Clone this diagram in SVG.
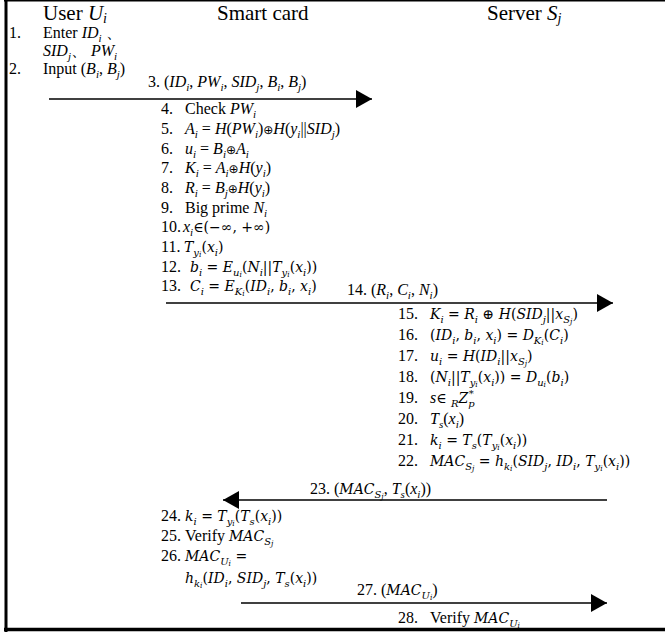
<svg xmlns="http://www.w3.org/2000/svg" width="665" height="633" viewBox="0 0 665 633">
<defs>
<style>
text{font-family:"Liberation Serif","Times New Roman",serif;font-size:16px;fill:#000}
.h{font-size:21px}
.i{font-style:italic}
.s{font-size:11px;baseline-shift:-3.5px}
.hs{font-size:14px;baseline-shift:-3px}
.m{font-family:"DejaVu Serif",serif;font-size:14px}
.ms{font-size:10px;baseline-shift:-3.5px}
.mss{font-size:7.5px;baseline-shift:-1.5px}
.msp{font-size:10px;baseline-shift:6px}
.op{font-family:"DejaVu Sans",sans-serif;font-size:12px}
.ln{stroke:#000;stroke-width:1.5;fill:none}
.fr{stroke:#000;fill:none}
</style>
<marker id="ah" viewBox="0 0 16 18" refX="16" refY="9" markerWidth="16" markerHeight="18" markerUnits="userSpaceOnUse" orient="auto"><path d="M0,0L16,9L0,18Z" fill="#000"/></marker>
</defs>
<rect width="665" height="633" fill="#fff"/>
<g id="frame">
<line class="fr" x1="6" y1="0" x2="6" y2="632" stroke-width="3"/>
<line class="fr" x1="4" y1="0.75" x2="665" y2="0.75" stroke-width="1.5"/>
<line class="fr" x1="4" y1="629.5" x2="665" y2="629.5" stroke-width="3.5"/>
</g>
<g id="headers">
<text class="h" x="43" y="20">User <tspan class="i">U</tspan><tspan class="hs i">i</tspan></text>
<text class="h" x="217" y="20">Smart card</text>
<text class="h" x="487" y="20">Server <tspan class="i">S</tspan><tspan class="hs i">j</tspan></text>
</g>
<g id="user">
<g id="step1"><text x="9" y="38">1.</text><text x="43" y="38">Enter <tspan class="i">ID</tspan><tspan class="s i">i</tspan> 、</text><text x="43" y="56"><tspan class="i">SID</tspan><tspan class="s i">j</tspan>、 <tspan class="i">PW</tspan><tspan class="s i">i</tspan></text></g>
<g id="step2"><text x="9" y="74">2.</text><text x="43" y="74">Input (<tspan class="i">B</tspan><tspan class="s i">i</tspan>, <tspan class="i">B</tspan><tspan class="s i">j</tspan>)</text></g>
</g>
<g id="card">
<g id="step4"><text x="161" y="114">4.</text><text x="185" y="114">Check <tspan class="i">PW</tspan><tspan class="s i">i</tspan></text></g>
<g id="step5"><text x="161" y="134">5.</text><text x="185" y="134"><tspan class="i">A</tspan><tspan class="s i">i</tspan> = <tspan class="i">H</tspan>(<tspan class="i">PW</tspan><tspan class="s i">i</tspan>)<tspan class="op">⊕</tspan><tspan class="i">H</tspan>(<tspan class="i">y</tspan><tspan class="s i">i</tspan>||<tspan class="i">SID</tspan><tspan class="s i">j</tspan>)</text></g>
<g id="step6"><text x="161" y="153.5">6.</text><text x="185" y="153.5"><tspan class="i">u</tspan><tspan class="s i">i</tspan> = <tspan class="i">B</tspan><tspan class="s i">i</tspan><tspan class="op">⊕</tspan><tspan class="i">A</tspan><tspan class="s i">i</tspan></text></g>
<g id="step7"><text x="161" y="173">7.</text><text x="185" y="173"><tspan class="i">K</tspan><tspan class="s i">i</tspan> = <tspan class="i">A</tspan><tspan class="s i">i</tspan><tspan class="op">⊕</tspan><tspan class="i">H</tspan>(<tspan class="i">y</tspan><tspan class="s i">i</tspan>)</text></g>
<g id="step8"><text x="161" y="193">8.</text><text x="185" y="193"><tspan class="i">R</tspan><tspan class="s i">i</tspan> = <tspan class="i">B</tspan><tspan class="s i">j</tspan><tspan class="op">⊕</tspan><tspan class="i">H</tspan>(<tspan class="i">y</tspan><tspan class="s i">i</tspan>)</text></g>
<g id="step9"><text x="161" y="212.5">9.</text><text x="185" y="212.5">Big prime <tspan class="i">N</tspan><tspan class="s i">i</tspan></text></g>
<g id="step10"><text x="161" y="232">10.</text><text x="183" y="232"><tspan class="i">x</tspan><tspan class="s i">i</tspan><tspan class="m">∈(−∞, +∞)</tspan></text></g>
<g id="step11"><text x="161" y="252">11.</text><text class="m" x="184" y="252"><tspan class="i">T</tspan><tspan class="ms i">y<tspan class="mss i">i</tspan></tspan>(<tspan class="i">x</tspan><tspan class="ms i">i</tspan>)</text></g>
<g id="step12"><text x="161" y="272">12.</text><text class="m" x="190" y="272"><tspan class="i">b</tspan><tspan class="ms i">i</tspan> = <tspan class="i">E</tspan><tspan class="ms i">u<tspan class="mss i">i</tspan></tspan>(<tspan class="i">N</tspan><tspan class="ms i">i</tspan>||<tspan class="i">T</tspan><tspan class="ms i">y<tspan class="mss i">i</tspan></tspan>(<tspan class="i">x</tspan><tspan class="ms i">i</tspan>))</text></g>
<g id="step13"><text x="161" y="291">13.</text><text class="m" x="190" y="291"><tspan class="i">C</tspan><tspan class="ms i">i</tspan> = <tspan class="i">E</tspan><tspan class="ms i">K<tspan class="mss i">i</tspan></tspan>(<tspan class="i">ID</tspan><tspan class="ms i">i</tspan>, <tspan class="i">b</tspan><tspan class="ms i">i</tspan>, <tspan class="i">x</tspan><tspan class="ms i">i</tspan>)</text></g>
<g id="step24"><text x="161" y="521">24.</text><text class="m" x="185" y="521"><tspan class="i">k</tspan><tspan class="ms i">i</tspan> = <tspan class="i">T</tspan><tspan class="ms i">y<tspan class="mss i">i</tspan></tspan>(<tspan class="i">T</tspan><tspan class="ms i">s</tspan>(<tspan class="i">x</tspan><tspan class="ms i">i</tspan>))</text></g>
<g id="step25"><text x="161" y="541">25.</text><text x="185" y="541">Verify <tspan class="m"><tspan class="i">MAC</tspan><tspan class="ms i">S<tspan class="mss i">j</tspan></tspan></tspan></text></g>
<g id="step26"><text x="161" y="561">26.</text><text class="m" x="185" y="561"><tspan class="i">MAC</tspan><tspan class="ms i">U<tspan class="mss i">i</tspan></tspan> =</text><text class="m" x="185" y="583"><tspan class="i">h</tspan><tspan class="ms i">k<tspan class="mss i">i</tspan></tspan>(<tspan class="i">ID</tspan><tspan class="ms i">i</tspan>, <tspan class="i">SID</tspan><tspan class="ms i">j</tspan>, <tspan class="i">T</tspan><tspan class="ms i">s</tspan>(<tspan class="i">x</tspan><tspan class="ms i">i</tspan>))</text></g>
</g>
<g id="server">
<g id="step15"><text x="398" y="319">15.</text><text class="m" x="430" y="319"><tspan class="i">K</tspan><tspan class="ms i">i</tspan> = <tspan class="i">R</tspan><tspan class="ms i">i</tspan> ⊕ <tspan class="i">H</tspan>(<tspan class="i">SID</tspan><tspan class="ms i">j</tspan>||<tspan class="i">x</tspan><tspan class="ms i">S<tspan class="mss i">j</tspan></tspan>)</text></g>
<g id="step16"><text x="398" y="340">16.</text><text class="m" x="430" y="340">(<tspan class="i">ID</tspan><tspan class="ms i">i</tspan>, <tspan class="i">b</tspan><tspan class="ms i">i</tspan>, <tspan class="i">x</tspan><tspan class="ms i">i</tspan>) = <tspan class="i">D</tspan><tspan class="ms i">K<tspan class="mss i">i</tspan></tspan>(<tspan class="i">C</tspan><tspan class="ms i">i</tspan>)</text></g>
<g id="step17"><text x="398" y="361">17.</text><text class="m" x="430" y="361"><tspan class="i">u</tspan><tspan class="ms i">i</tspan> = <tspan class="i">H</tspan>(<tspan class="i">ID</tspan><tspan class="ms i">i</tspan>||<tspan class="i">x</tspan><tspan class="ms i">S<tspan class="mss i">j</tspan></tspan>)</text></g>
<g id="step18"><text x="398" y="382">18.</text><text class="m" x="430" y="382">(<tspan class="i">N</tspan><tspan class="ms i">i</tspan>||<tspan class="i">T</tspan><tspan class="ms i">y<tspan class="mss i">i</tspan></tspan>(<tspan class="i">x</tspan><tspan class="ms i">i</tspan>)) = <tspan class="i">D</tspan><tspan class="ms i">u<tspan class="mss i">i</tspan></tspan>(<tspan class="i">b</tspan><tspan class="ms i">i</tspan>)</text></g>
<g id="step19"><text x="398" y="403">19.</text><text x="430" y="403"><tspan class="i">s</tspan><tspan class="m">∈   <tspan class="ms i">R</tspan><tspan class="i">Z</tspan><tspan class="ms i">p</tspan><tspan class="msp" dx="-6">*</tspan></tspan></text></g>
<g id="step20"><text x="398" y="424">20.</text><text x="430" y="424"><tspan class="i">T</tspan><tspan class="s i">s</tspan>(<tspan class="i">x</tspan><tspan class="s i">i</tspan>)</text></g>
<g id="step21"><text x="398" y="445">21.</text><text class="m" x="430" y="445"><tspan class="i">k</tspan><tspan class="ms i">i</tspan> = <tspan class="i">T</tspan><tspan class="ms i">s</tspan>(<tspan class="i">T</tspan><tspan class="ms i">y<tspan class="mss i">i</tspan></tspan>(<tspan class="i">x</tspan><tspan class="ms i">i</tspan>))</text></g>
<g id="step22"><text x="398" y="466">22.</text><text class="m" x="430" y="466"><tspan class="i">MAC</tspan><tspan class="ms i">S<tspan class="mss i">j</tspan></tspan> = <tspan class="i">h</tspan><tspan class="ms i">k<tspan class="mss i">i</tspan></tspan>(<tspan class="i">SID</tspan><tspan class="ms i">j</tspan>, <tspan class="i">ID</tspan><tspan class="ms i">i</tspan>, <tspan class="i">T</tspan><tspan class="ms i">y<tspan class="mss i">i</tspan></tspan>(<tspan class="i">x</tspan><tspan class="ms i">i</tspan>))</text></g>
<g id="step28"><text x="398" y="623">28.</text><text x="430" y="623">Verify <tspan class="m"><tspan class="i">MAC</tspan><tspan class="ms i">U<tspan class="mss i">i</tspan></tspan></tspan></text></g>
</g>
<g id="connectors">
<line class="ln" x1="49" y1="99" x2="372" y2="99" marker-end="url(#ah)"/>
<line class="ln" x1="166" y1="303" x2="613" y2="303" marker-end="url(#ah)"/>
<line class="ln" x1="607" y1="500" x2="223" y2="500" marker-end="url(#ah)"/>
<line class="ln" x1="241" y1="603" x2="607" y2="603" marker-end="url(#ah)"/>
<text x="148" y="87">3. (<tspan class="i">ID</tspan><tspan class="s i">i</tspan>, <tspan class="i">PW</tspan><tspan class="s i">i</tspan>, <tspan class="i">SID</tspan><tspan class="s i">j</tspan>, <tspan class="i">B</tspan><tspan class="s i">i</tspan>, <tspan class="i">B</tspan><tspan class="s i">j</tspan>)</text>
<text x="347" y="295">14. (<tspan class="i">R</tspan><tspan class="s i">i</tspan>, <tspan class="i">C</tspan><tspan class="s i">i</tspan>, <tspan class="i">N</tspan><tspan class="s i">i</tspan>)</text>
<text x="310" y="494">23. (<tspan class="m"><tspan class="i">MAC</tspan><tspan class="ms i">S<tspan class="mss i">j</tspan></tspan></tspan>, <tspan class="i">T</tspan><tspan class="s i">s</tspan>(<tspan class="i">x</tspan><tspan class="s i">i</tspan>))</text>
<text x="357" y="595">27. (<tspan class="m"><tspan class="i">MAC</tspan><tspan class="ms i">U<tspan class="mss i">i</tspan></tspan></tspan>)</text>
</g>
</svg>
